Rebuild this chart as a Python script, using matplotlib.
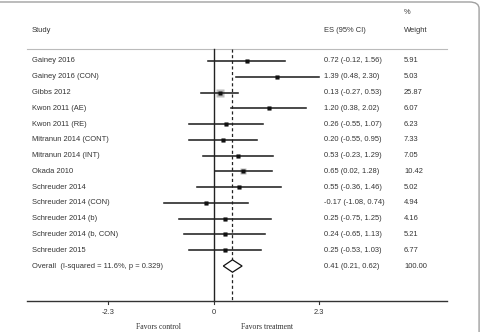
import numpy as np
import matplotlib.pyplot as plt
from matplotlib.patches import FancyBboxPatch, Polygon

studies = ["Gainey 2016", "Gainey 2016 (CON)", "Gibbs 2012", "Kwon 2011 (AE)",
           "Kwon 2011 (RE)", "Mitranun 2014 (CONT)", "Mitranun 2014 (INT)",
           "Okada 2010", "Schreuder 2014", "Schreuder 2014 (CON)",
           "Schreuder 2014 (b)", "Schreuder 2014 (b, CON)", "Schreuder 2015"]
es = [0.72, 1.39, 0.13, 1.20, 0.26, 0.20, 0.53, 0.65, 0.55, -0.17, 0.25, 0.24, 0.25]
lo = [-0.12, 0.48, -0.27, 0.38, -0.55, -0.55, -0.23, 0.02, -0.36, -1.08, -0.75, -0.65, -0.53]
hi = [1.56, 2.30, 0.53, 2.02, 1.07, 0.95, 1.29, 1.28, 1.46, 0.74, 1.25, 1.13, 1.03]
weights = [5.91, 5.03, 25.87, 6.07, 6.23, 7.33, 7.05, 10.42, 5.02, 4.94, 4.16, 5.21, 6.77]

overall_label = "Overall  (I-squared = 11.6%, p = 0.329)"
overall_es, overall_lo, overall_hi = 0.41, 0.21, 0.62
xticks = [-2.3, 0, 2.3]

# pixel layout helpers (0 at px 213.7, 45.8 px per unit; rows 15.77 px apart)
px0, ppu = 213.7, 45.8
row0, rowh = 61.0, 15.77


def xd(px):
    return (px - px0) / ppu


def yd(py):
    return (py - row0) / rowh


fig = plt.figure(figsize=(4.81, 3.32), dpi=100)
ax = fig.add_axes([0, 0, 1, 1])
ax.set_xlim(xd(0), xd(481))
ax.set_ylim(yd(332), yd(0))
ax.axis("off")

txt = "#333333"
sans = "Liberation Sans"
serif = "Liberation Serif"
fs = 5.4

# frame
fig.patches.append(FancyBboxPatch((-0.05, -0.05), 1.046, 1.044,
                                  boxstyle="round,pad=0,rounding_size=0.02",
                                  transform=fig.transFigure, fill=False,
                                  ec="#a0a0a0", lw=1.0))

x_left, x_right = xd(26.7), xd(446.7)
y_sep, y_axis = yd(49), yd(300.7)

ax.plot([x_left, x_right], [y_sep, y_sep], color="#bbbbbb", lw=0.8)
ax.plot([x_left, x_right], [y_axis, y_axis], color="#333333", lw=1.0)
ax.plot([0, 0], [y_sep, y_axis], color="#222222", lw=1.0)
ax.plot([overall_es, overall_es], [y_sep, y_axis], color="#222222", lw=0.9,
        ls=(0, (2.5, 2)))

for t in xticks:
    ax.plot([t, t], [y_axis, yd(304)], color="#333333", lw=0.8)
    ax.text(t, yd(312.5), f"{t:g}", ha="center", va="center", fontsize=fs,
            family=sans, color=txt)

ax.text(xd(159), yd(326.5), "Favors control", ha="center", va="center",
        fontsize=5.6, family=serif, color=txt)
ax.text(xd(267), yd(326.5), "Favors treatment", ha="center", va="center",
        fontsize=5.6, family=serif, color=txt)

x_study, x_es, x_w = xd(32), xd(324), xd(404)
ax.text(x_study, yd(30), "Study", ha="left", va="center", fontsize=fs, family=sans, color=txt)
ax.text(x_es, yd(30), "ES (95% CI)", ha="left", va="center", fontsize=fs, family=sans, color=txt)
ax.text(x_w, yd(13), "%", ha="left", va="center", fontsize=fs, family=sans, color=txt)
ax.text(x_w, yd(30), "Weight", ha="left", va="center", fontsize=fs, family=sans, color=txt)

rows = np.arange(len(studies))
max_w = max(weights)
for i in rows:
    ms = 6.4 * np.sqrt(weights[i] / max_w)
    ax.plot(es[i], i, marker="s", ms=ms, color="#bdbdbd", mec="none", zorder=2)
    ax.plot([lo[i], hi[i]], [i, i], color="#222222", lw=1.15, zorder=3)
    ax.plot(es[i], i, marker="s", ms=2.2, color="#111111", mec="none", zorder=4)
    ax.text(x_study, i, studies[i], ha="left", va="center", fontsize=fs,
            family=sans, color=txt)
    ax.text(x_es, i, f"{es[i]:.2f} ({lo[i]:.2f}, {hi[i]:.2f})", ha="left",
            va="center", fontsize=fs, family=sans, color=txt)
    ax.text(x_w, i, f"{weights[i]:.2f}", ha="left", va="center", fontsize=fs,
            family=sans, color=txt)

yo = len(studies)
hh = 6.2 / rowh
ax.add_patch(Polygon([[overall_lo, yo], [overall_es, yo - hh], [overall_hi, yo],
                      [overall_es, yo + hh]], closed=True, fill=True, fc="white",
                     ec="#111111", lw=0.9, zorder=5))
ax.text(x_study, yo, overall_label, ha="left", va="center", fontsize=fs,
        family=sans, color=txt)
ax.text(x_es, yo, f"{overall_es:.2f} ({overall_lo:.2f}, {overall_hi:.2f})",
        ha="left", va="center", fontsize=fs, family=sans, color=txt)
ax.text(x_w, yo, "100.00", ha="left", va="center", fontsize=fs, family=sans, color=txt)

fig.savefig("out.png", dpi=100)
